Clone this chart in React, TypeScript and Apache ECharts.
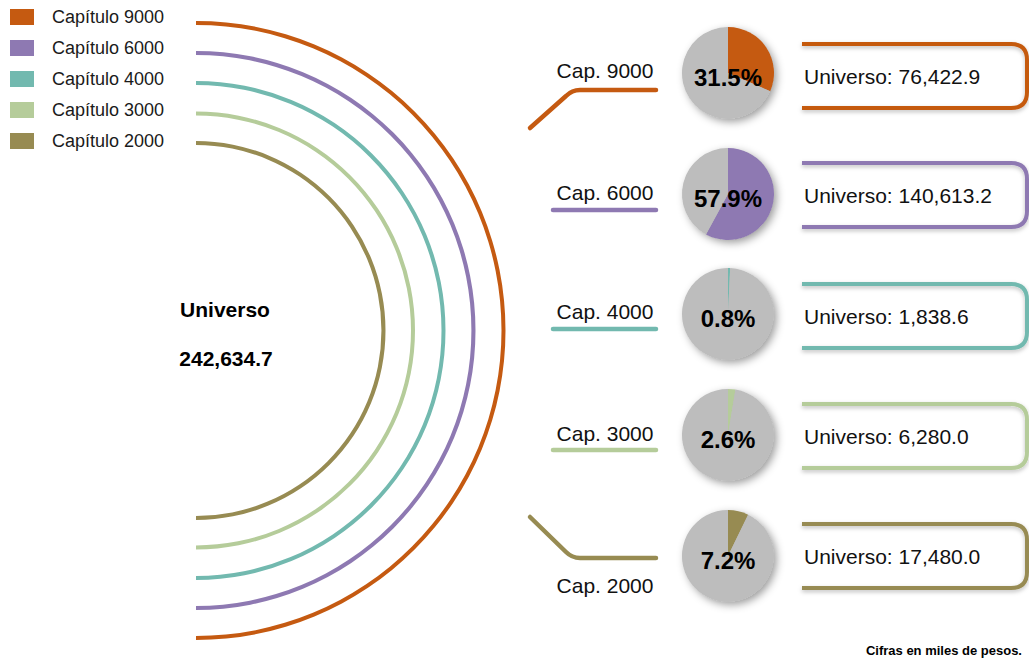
import React, { useEffect, useRef } from "react";
import * as echarts from "echarts";

// ---- data ----
const categories = ["Capítulo 9000", "Capítulo 6000", "Capítulo 4000", "Capítulo 3000", "Capítulo 2000"];
const shortLabels = ["Cap. 9000", "Cap. 6000", "Cap. 4000", "Cap. 3000", "Cap. 2000"];
const universoValues = [76422.9, 140613.2, 1838.6, 6280.0, 17480.0];
const percentLabels = ["31.5%", "57.9%", "0.8%", "2.6%", "7.2%"];
const universoTotal = 242634.7;
const colors = ["#c55a11", "#8e79b2", "#72b9af", "#b5cc9a", "#978b52"];
const restColor = "#bdbdbd";

// ---- layout ----
const FONT = "'Liberation Sans', Arial, Helvetica, sans-serif";
const ringCenter = [196, 330.5];
const ringRadii = [307.5, 277.5, 247.5, 217, 187.5];
const pieX = 728;
const pieY = [73, 194, 314, 435, 556];
const pieR = 46;
const boxTop = [44, 163, 284, 404, 524];
const capLabelY = [70, 192, 311, 433, 585];
const capLineY = [90, 210, 329, 450, 558];

const fmt = (v: number) =>
  v.toLocaleString("en-US", { minimumFractionDigits: 1, maximumFractionDigits: 1 });

let registered = false;
function registerShapes() {
  if (registered) return;
  registered = true;
  echarts.graphic.registerShape(
    "boxFrame",
    echarts.graphic.extendPath("M0 0 L209 0 Q225 0 225 16 L225 48 Q225 64 209 64 L0 64", {})
  );
  echarts.graphic.registerShape(
    "connUp",
    echarts.graphic.extendPath("M0 38 L36 6 Q42 0 50 0 L126 0", {})
  );
  echarts.graphic.registerShape(
    "connDown",
    echarts.graphic.extendPath("M0 0 L36 35 Q42 41 50 41 L126 41", {})
  );
}

export default function App() {
  const ref = useRef<HTMLDivElement>(null);
  useEffect(() => {
    if (!ref.current) return;
    registerShapes();
    const chart = echarts.init(ref.current, undefined, { renderer: "svg" });

    const ringSeries = categories.map((name, i) => ({
      type: "pie",
      silent: true,
      z: 2,
      center: ringCenter,
      radius: [ringRadii[i] - 2, ringRadii[i] + 2],
      startAngle: 90,
      clockwise: true,
      label: { show: false },
      labelLine: { show: false },
      emphasis: { disabled: true },
      data: [
        { name, value: 1, itemStyle: { color: colors[i] } },
        { name: "", value: 1, itemStyle: { color: "rgba(0,0,0,0)" } },
      ],
    }));

    const pieSeries = universoValues.map((v, i) => ({
      type: "pie",
      silent: true,
      z: 3,
      center: [pieX, pieY[i]],
      radius: pieR,
      startAngle: 90,
      clockwise: true,
      label: { show: false },
      labelLine: { show: false },
      emphasis: { disabled: true },
      data: [
        { name: shortLabels[i], value: v, itemStyle: { color: colors[i] } },
        { name: "Resto", value: universoTotal - v, itemStyle: { color: restColor } },
      ],
    }));

    const graphics: any[] = [];
    // pie shadows
    pieY.forEach((y) => {
      graphics.push({
        type: "circle",
        z: 0,
        silent: true,
        shape: { cx: pieX, cy: y, r: pieR - 0.5 },
        style: {
          fill: restColor,
          shadowBlur: 8,
          shadowOffsetX: 3,
          shadowOffsetY: 3,
          shadowColor: "rgba(0,0,0,0.4)",
        },
      });
    });
    // percent labels
    percentLabels.forEach((p, i) => {
      graphics.push({
        type: "text",
        z: 10,
        x: pieX,
        y: pieY[i] + 4,
        style: {
          text: p,
          fontSize: 24,
          fontWeight: "bold",
          fontFamily: FONT,
          fill: "#000",
          align: "center",
          verticalAlign: "middle",
        },
      });
    });
    // boxes
    universoValues.forEach((v, i) => {
      graphics.push({
        type: "boxFrame",
        x: 802,
        y: boxTop[i],
        z: 5,
        style: {
          fill: "none",
          stroke: colors[i],
          lineWidth: 4,
          lineJoin: "round",
          shadowBlur: 4,
          shadowOffsetY: 2,
          shadowColor: "rgba(0,0,0,0.25)",
        },
      });
      graphics.push({
        type: "text",
        z: 10,
        x: 804,
        y: boxTop[i] + 32,
        style: {
          text: "Universo: " + fmt(v),
          fontSize: 21,
          fontFamily: FONT,
          fill: "#111",
          align: "left",
          verticalAlign: "middle",
        },
      });
    });
    // connectors
    shortLabels.forEach((lab, i) => {
      const stroke = { stroke: colors[i], lineWidth: 4.5, lineCap: "round", lineJoin: "round", fill: "none" };
      if (i === 0) {
        graphics.push({ type: "connUp", x: 530, y: capLineY[i], style: stroke, z: 5 });
      } else if (i === shortLabels.length - 1) {
        graphics.push({ type: "connDown", x: 530, y: capLineY[i] - 41, style: stroke, z: 5 });
      } else {
        graphics.push({
          type: "line",
          z: 5,
          shape: { x1: 553, y1: capLineY[i], x2: 656, y2: capLineY[i] },
          style: { stroke: colors[i], lineWidth: 4.5, lineCap: "round" },
        });
      }
      graphics.push({
        type: "text",
        z: 10,
        x: 605,
        y: capLabelY[i],
        style: {
          text: lab,
          fontSize: 21,
          fontFamily: FONT,
          fill: "#111",
          align: "center",
          verticalAlign: "middle",
        },
      });
    });
    // center text
    graphics.push({
      type: "text",
      x: 225,
      y: 309,
      style: { text: "Universo", fontSize: 21, fontWeight: "bold", fontFamily: FONT, fill: "#000", align: "center", verticalAlign: "middle" },
    });
    graphics.push({
      type: "text",
      x: 226,
      y: 358,
      style: { text: fmt(universoTotal), fontSize: 21, fontWeight: "bold", fontFamily: FONT, fill: "#000", align: "center", verticalAlign: "middle" },
    });
    // footnote
    graphics.push({
      type: "text",
      x: 1022,
      y: 650,
      style: { text: "Cifras en miles de pesos.", fontSize: 13, fontWeight: "bold", fontFamily: FONT, fill: "#000", align: "right", verticalAlign: "middle" },
    });

    chart.setOption({
      animation: false,
      backgroundColor: "#ffffff",
      legend: {
        orient: "vertical",
        left: 10,
        top: 8,
        padding: 0,
        itemWidth: 24,
        itemHeight: 16,
        itemGap: 13,
        icon: "rect",
        selectedMode: false,
        data: categories,
        textStyle: { fontSize: 18, color: "#1a1a1a", fontFamily: FONT, padding: [0, 0, 0, 13] },
      },
      series: [...ringSeries, ...pieSeries],
      graphic: graphics,
    });
    return () => chart.dispose();
  }, []);
  return (
    <div
      ref={ref}
      style={{ position: "fixed", left: 0, top: 0, width: 1029, height: 660, background: "#fff" }}
    />
  );
}
